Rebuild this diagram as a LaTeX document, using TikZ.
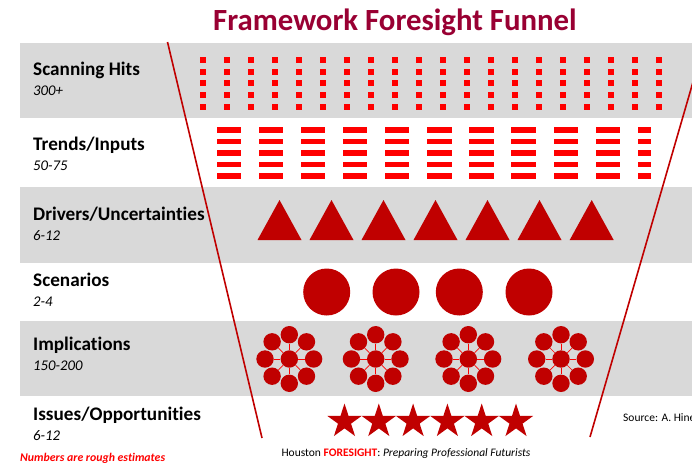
\documentclass[tikz,border=0pt]{standalone}
\usepackage{fontspec}
\setmainfont{Carlito}[Ligatures=CommonOff]
\usetikzlibrary{shapes.geometric,calc}
\definecolor{fdark}{RGB}{192,0,0}
\definecolor{fred}{RGB}{255,0,0}
\definecolor{ftitle}{RGB}{153,0,51}
\definecolor{fgray}{RGB}{217,217,217}
\begin{document}
\begin{tikzpicture}[x=1pt,y=-1pt,
 lbl/.style={anchor=base west,inner sep=0pt,font=\fontsize{19.2}{22}\selectfont\bfseries},
 num/.style={anchor=base west,inner sep=0pt,font=\fontsize{14.8}{17}\selectfont\itshape},
 blob/.style={circle,fill=fdark,inner sep=0pt,minimum size=17.4pt},
 starry/.style={star,star points=5,star point ratio=2.618,fill=fdark,inner sep=0pt,minimum size=36pt},
 funnel/.style={draw=fdark,line width=1.6pt}]
\useasboundingbox (0,0) rectangle (692,463);
\clip (0,0) rectangle (692,463);
% bands
\foreach \t/\b in {42.7/118, 187/263, 321/396} \fill[fgray] (20,\t) rectangle (692,\b);
\node[anchor=base,inner sep=0pt,text=ftitle,font=\fontsize{30.8}{34}\selectfont\bfseries] (title) at (395,30.5) {Framework Foresight Funnel};
% labels
\foreach \y/\a/\b [count=\k] in {75/Scanning Hits/300+, 150.7/Trends\slash Inputs/50-75, 220/Drivers\slash Uncertainties/6-12, 286.7/Scenarios/2-4, 350/Implications/150-200, 420.7/Issues\slash Opportunities/6-12}
 \path (33,\y) node[lbl] (lbl\k) {\a} (33,\y+20) node[num] (num\k) {\b};
% scanning hits
\foreach \i in {0,...,19} \foreach \j in {0,...,4} \fill[fred] (199.7+24*\i,57+11.67*\j) rectangle ++(6,6);
% trends
\foreach \j in {0,...,4} {
 \foreach \i in {0,...,9} \fill[fred] (216.7+42.1*\i,127.3+11.45*\j) rectangle ++(24.3,5.4);
 \fill[fred] (637.7,127.3+11.45*\j) rectangle ++(13,5.4);}
% drivers
\foreach \x in {279.5,331.5,383.5,435.5,487.5,539.5,591.7} \fill[fdark] (\x-22,240) -- (\x+22,240) -- (\x,200) -- cycle;
% scenarios
\foreach \x [count=\k] in {326.7,396,459.3,529} \node[circle,fill=fdark,inner sep=0pt,minimum size=47pt] (sc\k) at (\x,292) {};
% implications
\foreach \x [count=\k] in {289.3,375.7,468.3,561} {
 \node[blob] (im\k) at (\x,359) {};
 \foreach \a in {0,45,...,315} {
  \node[blob] (im\k-\a) at ($(\x,359)+(\a:24.3pt)$) {};
  \draw[fred,line width=.7pt] (im\k) -- (im\k-\a);}}
% issues
\foreach \i in {0,...,5} \node[starry] (st\i) at (344.5+34.3*\i,421.5) {};
% funnel
\coordinate (lt) at (167.5,42); \coordinate (lb) at (262,438);
\coordinate (rt) at (704.6,42); \coordinate (rb) at (590,437);
\draw[funnel] (lt) -- (lb) (rt) -- (rb);
\node[anchor=base,inner sep=0pt,font=\fontsize{11.5}{13}\selectfont] (foot) at (406,456) {Houston \textcolor{fred}{\textbf{FORESIGHT}}: \textit{Preparing Professional Futurists}};
\node[anchor=base west,inner sep=0pt,font=\fontsize{11.5}{13}\selectfont] (src) at (623,421.7) {Source: A. Hines};
\node[anchor=base west,inner sep=0pt,text=fred,font=\fontsize{11.8}{13}\selectfont\bfseries\itshape] (note) at (20,461.5) {Numbers are rough estimates};
\end{tikzpicture}
\end{document}
